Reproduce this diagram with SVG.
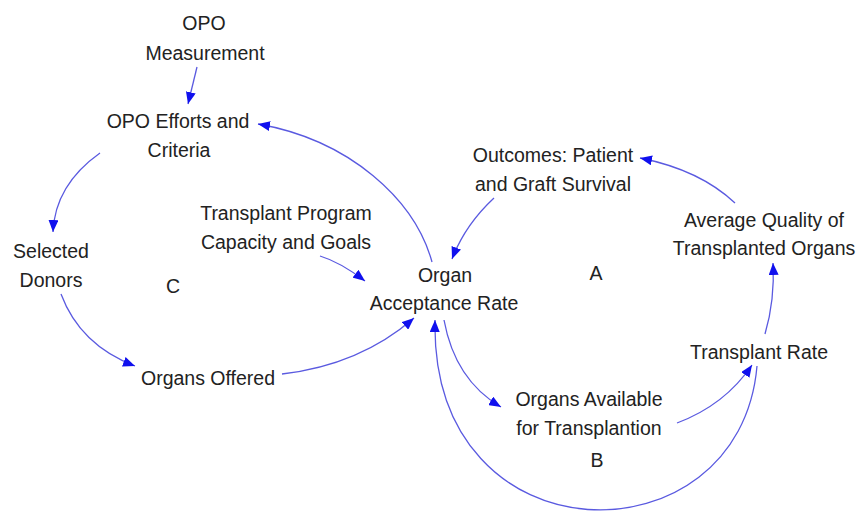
<svg xmlns="http://www.w3.org/2000/svg" width="860" height="512" viewBox="0 0 860 512">
<defs>
<marker id="ah" markerUnits="userSpaceOnUse" markerWidth="14" markerHeight="10" refX="12" refY="5" orient="auto">
<path d="M0,0 L12,5 L0,10 z" fill="#1010ee"/>
</marker>
<style>
text{font-family:"Liberation Sans",Arial,sans-serif;font-size:19.5px;fill:#222;text-anchor:middle}
.c{fill:none;stroke:#5a5ae0;stroke-width:1.3;marker-end:url(#ah)}
</style>
</defs>
<rect width="860" height="512" fill="#fff"/>
<g id="connectors">
<path class="c" d="M197,67 L188,104"/>
<path class="c" d="M432,262 C415,200 350,140 258,124"/>
<path class="c" d="M100,153 Q55,185 53,232"/>
<path class="c" d="M61,294 Q80,345 135,366"/>
<path class="c" d="M282,374 Q360,365 414,318"/>
<path class="c" d="M320,256 Q340,262 365,281"/>
<path class="c" d="M494,198 Q465,225 452,259"/>
<path class="c" d="M735,203 Q700,170 640,158"/>
<path class="c" d="M765,334 Q775,300 773,263"/>
<path class="c" d="M444,320 Q455,380 501,407"/>
<path class="c" d="M677,423 Q725,405 752,365"/>
<path class="c" d="M757,366 C740,565 430,565 435,320"/>
</g>
<g id="opo-measurement"><text x="204" y="30">OPO</text><text x="205" y="60">Measurement</text></g>
<g id="opo-efforts"><text x="178" y="128">OPO Efforts and</text><text x="179" y="157">Criteria</text></g>
<g id="selected-donors"><text x="51" y="258">Selected</text><text x="51" y="287">Donors</text></g>
<g id="label-c"><text x="173" y="293">C</text></g>
<g id="transplant-program"><text x="286" y="220">Transplant Program</text><text x="286" y="249">Capacity and Goals</text></g>
<g id="organ-acceptance"><text x="445" y="282">Organ</text><text x="444" y="310">Acceptance Rate</text></g>
<g id="outcomes"><text x="553" y="162">Outcomes: Patient</text><text x="553" y="191">and Graft Survival</text></g>
<g id="average-quality"><text x="764" y="227">Average Quality of</text><text x="764" y="255">Transplanted Organs</text></g>
<g id="label-a"><text x="596" y="280">A</text></g>
<g id="transplant-rate"><text x="759" y="359">Transplant Rate</text></g>
<g id="organs-available"><text x="589" y="406">Organs Available</text><text x="589" y="435">for Transplantion</text></g>
<g id="label-b"><text x="597" y="467">B</text></g>
<g id="organs-offered"><text x="208" y="385">Organs Offered</text></g>
</svg>
